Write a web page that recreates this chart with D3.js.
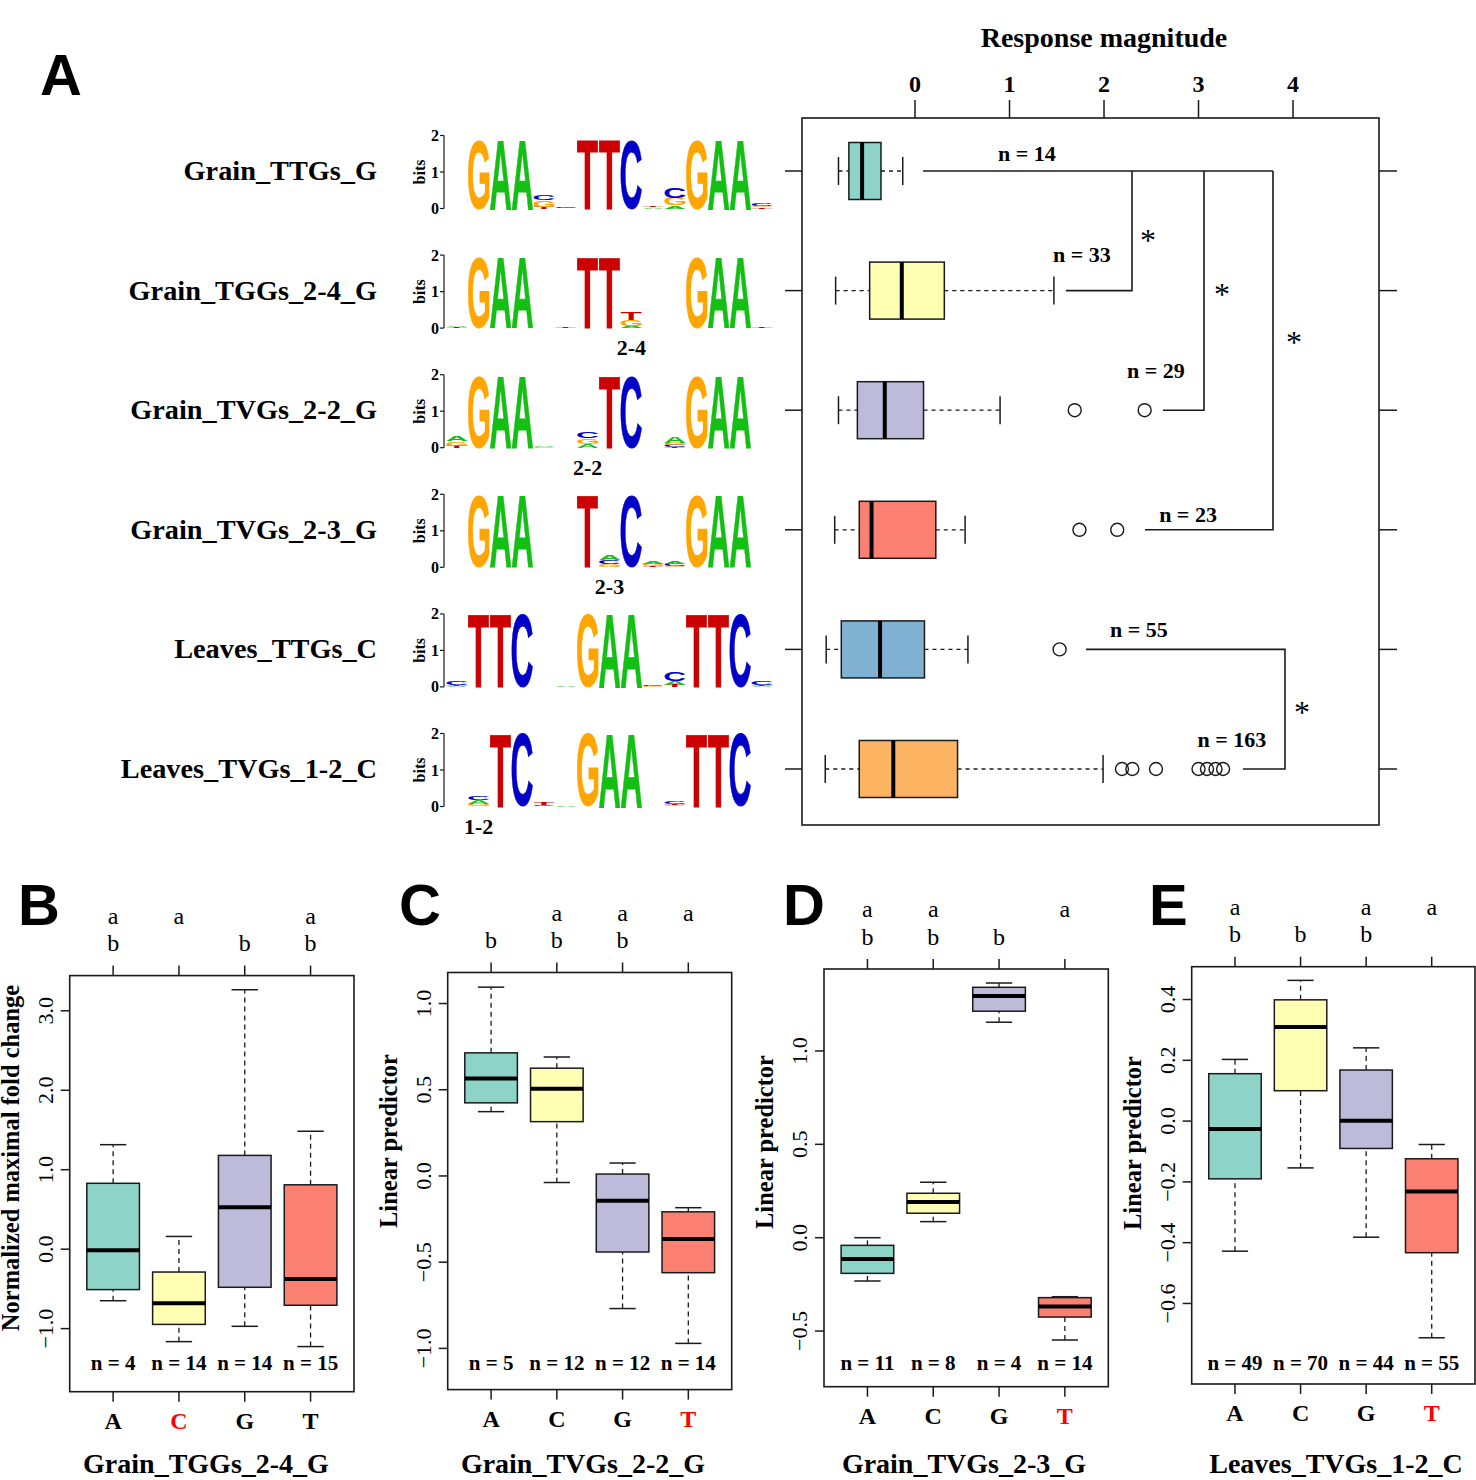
<!DOCTYPE html>
<html>
<head>
<meta charset="utf-8">
<script src="https://cdn.jsdelivr.net/npm/d3@7"></script>
<style>
    body { margin: 0; background: #fff; }
</style>
</head>
<body>
<svg id="fig" width="1476" height="1480"></svg>
<script>
// ---------- panel A data ----------
const motifNames = ["Grain_TTGs_G", "Grain_TGGs_2-4_G", "Grain_TVGs_2-2_G", "Grain_TVGs_2-3_G", "Leaves_TTGs_C", "Leaves_TVGs_1-2_C"];
// [min, q1, median, q3, max] of response magnitude
const respStats = [
    [-0.81, -0.70, -0.56, -0.36, -0.13],
    [-0.84, -0.48, -0.14, 0.31, 1.47],
    [-0.81, -0.61, -0.32, 0.09, 0.90],
    [-0.85, -0.59, -0.46, 0.22, 0.53],
    [-0.94, -0.78, -0.37, 0.10, 0.56],
    [-0.95, -0.59, -0.23, 0.45, 1.99]
];
const respOutliers = [[], [], [1.69, 2.43], [1.74, 2.14], [1.53], [2.19, 2.30, 2.55, 3.00, 3.09, 3.18, 3.26]];
const respN = [14, 33, 29, 23, 55, 163];
const respTicks = [0, 1, 2, 3, 4];
const boxColors = ["#8dd3c7", "#ffffb3", "#bebada", "#fb8072", "#80b1d3", "#fdb462"];
// n label anchor [value, row]
const nLabelAt = [[1.185, -0.084], [1.767, 0.757], [2.55, 1.731], [2.889, 2.932], [2.37, 3.894], [3.354, 4.814]];
// significance brackets as polylines [value, row]
const bracketLines = [
    [[0.085, 0], [3.788, 0]],
    [[1.598, 1], [2.296, 1], [2.296, 0]],
    [[2.624, 2], [3.058, 2], [3.058, 0]],
    [[2.434, 3], [3.788, 3], [3.788, 0]],
    [[1.81, 4], [3.915, 4], [3.915, 5], [3.471, 5]]
];
const sigStars = [[2.466, 0.543], [3.249, 0.995], [4.011, 1.396], [4.095, 4.49]];

// sequence logos: 15 columns, each a stack of [base, bits] from bottom to top
const logoTTGs = [
    [], [["G", 1.88]], [["A", 1.88]], [["A", 1.88]],
    [["T", 0.05], ["G", 0.18], ["C", 0.15]], [["G", 0.02], ["C", 0.04]],
    [["T", 1.88]], [["T", 1.88]], [["C", 1.88]],
    [["A", 0.03], ["T", 0.03]], [["A", 0.08], ["G", 0.2], ["C", 0.3]],
    [["G", 1.88]], [["A", 1.88]], [["A", 1.88]],
    [["T", 0.03], ["G", 0.03], ["C", 0.08]]
];
const logoTGGs24 = [
    [["T", 0.02], ["A", 0.04]], [["G", 1.92]], [["A", 1.92]], [["A", 1.92]],
    [], [["T", 0.02]],
    [["T", 1.92]], [["T", 1.92]], [["A", 0.05], ["G", 0.18], ["T", 0.22]],
    [], [],
    [["G", 1.92]], [["A", 1.92]], [["A", 1.92]],
    [["T", 0.02]]
];
const logoTVGs22 = [
    [["T", 0.05], ["G", 0.12], ["A", 0.12]], [["G", 1.94]], [["A", 1.94]], [["A", 1.94]],
    [["G", 0.02], ["A", 0.02]], [],
    [["A", 0.1], ["G", 0.15], ["C", 0.18]], [["T", 1.94]], [["C", 1.94]],
    [], [["T", 0.02], ["C", 0.05], ["G", 0.05], ["A", 0.16]],
    [["G", 1.94]], [["A", 1.94]], [["A", 1.94]],
    []
];
const logoTVGs23 = [
    [], [["G", 1.96]], [["A", 1.96]], [["A", 1.96]],
    [], [],
    [["T", 1.96]], [["G", 0.08], ["C", 0.12], ["A", 0.12]], [["C", 1.96]],
    [["T", 0.03], ["G", 0.05], ["A", 0.08]], [["G", 0.03], ["C", 0.05], ["A", 0.07]],
    [["G", 1.96]], [["A", 1.96]], [["A", 1.96]],
    []
];
const logoLeavesTTGs = [
    [["A", 0.02], ["T", 0.03], ["C", 0.1]], [["T", 1.98]], [["T", 1.98]], [["C", 1.98]],
    [], [["A", 0.04]],
    [["G", 1.98]], [["A", 1.98]], [["A", 1.98]],
    [["G", 0.02], ["C", 0.03]], [["T", 0.05], ["A", 0.1], ["C", 0.25]],
    [["T", 1.98]], [["T", 1.98]], [["C", 1.98]],
    [["A", 0.02], ["T", 0.03], ["C", 0.1]]
];
const logoLeavesTVGs12 = [
    [], [["G", 0.08], ["A", 0.1], ["C", 0.12]], [["T", 1.98]], [["C", 1.98]],
    [["C", 0.03], ["T", 0.05]], [["A", 0.04]],
    [["G", 1.98]], [["A", 1.98]], [["A", 1.98]],
    [], [["G", 0.03], ["T", 0.04], ["C", 0.08]],
    [["T", 1.98]], [["T", 1.98]], [["C", 1.98]],
    [["C", 0.01]]
];
const logos = [logoTTGs, logoTGGs24, logoTVGs22, logoTVGs23, logoLeavesTTGs, logoLeavesTVGs12];
const spacerLabels = ["", "2-4", "2-2", "2-3", "", "1-2"];
const spacerCols = [null, 8, 6, 7, null, 1];
const baseColors = { A: "#14bf14", C: "#0000c8", G: "#ffa500", T: "#cc0000" };

// ---------- panels B-E data ----------
const bases = ["A", "C", "G", "T"];
const fcStats = [[-0.649, -0.509, -0.013, 0.829, 1.315], [-1.164, -0.947, -0.682, -0.288, 0.16], [-0.971, -0.48, 0.526, 1.18, 3.265], [-1.226, -0.706, -0.374, 0.81, 1.484]];
const fcN = [4, 14, 14, 15];
const fcGroups = ["ab", "a", "b", "ab"];
const fcTicks = [-1, 0, 1, 2, 3];
const lp22Stats = [[0.373, 0.424, 0.565, 0.714, 1.095], [-0.038, 0.315, 0.506, 0.625, 0.69], [-0.769, -0.441, -0.144, 0.011, 0.075], [-0.971, -0.561, -0.366, -0.208, -0.184]];
const lp22N = [5, 12, 12, 14];
const lp22Groups = ["b", "ab", "ab", "a"];
const lp22Ticks = [-1, -0.5, 0, 0.5, 1];
const lp23Stats = [[-0.232, -0.191, -0.114, -0.041, 0.0], [0.086, 0.131, 0.191, 0.238, 0.297], [1.154, 1.213, 1.295, 1.341, 1.364], [-0.548, -0.425, -0.368, -0.321, -0.316]];
const lp23N = [11, 8, 4, 14];
const lp23Groups = ["ab", "ab", "b", "a"];
const lp23Ticks = [-0.5, 0, 0.5, 1];
const lp12Stats = [[-0.428, -0.19, -0.026, 0.156, 0.203], [-0.154, 0.1, 0.31, 0.399, 0.463], [-0.382, -0.09, 0.001, 0.168, 0.241], [-0.713, -0.433, -0.232, -0.124, -0.077]];
const lp12N = [49, 70, 44, 55];
const lp12Groups = ["ab", "b", "ab", "a"];
const lp12Ticks = [-0.6, -0.4, -0.2, 0, 0.2, 0.4];

const serif = "'Liberation Serif', 'Times New Roman', serif";
const sans = "'Liberation Sans', Arial, sans-serif";
const ink = "#1a1a1a";

const svg = d3.select("#fig");

// panel letters
[["A", 40, 95], ["B", 18, 925], ["C", 399, 925], ["D", 783, 925], ["E", 1149, 925]].forEach(([t, x, y]) => {
    svg.append("text").attr("x", x).attr("y", y)
        .attr("font-family", sans).attr("font-weight", "bold").attr("font-size", 58)
        .text(t);
});

// ---------- panel A: response magnitude boxplots ----------
const frameA = { x0: 802, x1: 1379, y0: 118, y1: 825 };
const xA = d3.scaleLinear().domain([-1.196, 4.91]).range([frameA.x0, frameA.x1]);
const yA = d3.scaleLinear().domain([0, 5]).range([171, 769]);
const gA = svg.append("g");

gA.append("rect")
    .attr("x", frameA.x0).attr("y", frameA.y0)
    .attr("width", frameA.x1 - frameA.x0).attr("height", frameA.y1 - frameA.y0)
    .attr("fill", "none").attr("stroke", ink).attr("stroke-width", 1.6);

// top axis
gA.selectAll(".tickA").data(respTicks).join("line")
    .attr("x1", d => xA(d)).attr("x2", d => xA(d))
    .attr("y1", frameA.y0).attr("y2", frameA.y0 - 18)
    .attr("stroke", ink).attr("stroke-width", 1.5);
gA.selectAll(".tickLabA").data(respTicks).join("text")
    .attr("x", d => xA(d)).attr("y", 92)
    .attr("text-anchor", "middle")
    .attr("font-family", serif).attr("font-weight", "bold").attr("font-size", 24)
    .text(d => d);
gA.append("text")
    .attr("x", xA(2)).attr("y", 47)
    .attr("text-anchor", "middle")
    .attr("font-family", serif).attr("font-weight", "bold").attr("font-size", 28)
    .text("Response magnitude");

// side ticks and motif names
motifNames.forEach((m, i) => {
    gA.append("line").attr("x1", frameA.x0 - 17).attr("x2", frameA.x0)
        .attr("y1", yA(i)).attr("y2", yA(i)).attr("stroke", ink).attr("stroke-width", 1.5);
    gA.append("line").attr("x1", frameA.x1).attr("x2", frameA.x1 + 18)
        .attr("y1", yA(i)).attr("y2", yA(i)).attr("stroke", ink).attr("stroke-width", 1.5);
    svg.append("text")
        .attr("x", 377).attr("y", yA(i) + 9)
        .attr("text-anchor", "end")
        .attr("font-family", serif).attr("font-weight", "bold").attr("font-size", 28.3)
        .text(m);
});

const halfBox = 28.5, halfCap = 14;
respStats.forEach((s, i) => {
    const cy = yA(i);
    const g = gA.append("g");
    [[s[0], s[1]], [s[3], s[4]]].forEach(([a, b]) => {
        g.append("line").attr("x1", xA(a)).attr("x2", xA(b)).attr("y1", cy).attr("y2", cy)
            .attr("stroke", ink).attr("stroke-width", 1.3).attr("stroke-dasharray", "4,4");
    });
    [s[0], s[4]].forEach(v => {
        g.append("line").attr("x1", xA(v)).attr("x2", xA(v))
            .attr("y1", cy - halfCap).attr("y2", cy + halfCap)
            .attr("stroke", ink).attr("stroke-width", 1.5);
    });
    g.append("rect")
        .attr("x", xA(s[1])).attr("y", cy - halfBox)
        .attr("width", xA(s[3]) - xA(s[1])).attr("height", 2 * halfBox)
        .attr("fill", boxColors[i]).attr("stroke", ink).attr("stroke-width", 1.5);
    g.append("line").attr("x1", xA(s[2])).attr("x2", xA(s[2]))
        .attr("y1", cy - halfBox).attr("y2", cy + halfBox)
        .attr("stroke", "#000").attr("stroke-width", 4);
    g.selectAll("circle").data(respOutliers[i]).join("circle")
        .attr("cx", d => xA(d)).attr("cy", cy).attr("r", 6.5)
        .attr("fill", "none").attr("stroke", ink).attr("stroke-width", 1.4);
    g.append("text")
        .attr("x", xA(nLabelAt[i][0])).attr("y", yA(nLabelAt[i][1]))
        .attr("text-anchor", "middle")
        .attr("font-family", serif).attr("font-weight", "bold").attr("font-size", 22)
        .text(`n = ${respN[i]}`);
});

const bracketLine = d3.line().x(d => xA(d[0])).y(d => yA(d[1]));
gA.selectAll(".bracket").data(bracketLines).join("path")
    .attr("d", bracketLine)
    .attr("fill", "none").attr("stroke", ink).attr("stroke-width", 1.6);
gA.selectAll(".star").data(sigStars).join("text")
    .attr("x", d => xA(d[0])).attr("y", d => yA(d[1]) + 15)
    .attr("text-anchor", "middle")
    .attr("font-family", serif).attr("font-size", 32)
    .text("*");

// ---------- sequence logos ----------
const bitPx = 36.5, colW = 21.8, logoX0 = 446, axisX = 444;
const ctx = document.createElement("canvas").getContext("2d");
ctx.font = "bold 100px 'Liberation Sans'";
const glyph = {};
"ACGT".split("").forEach(ch => {
    const m = ctx.measureText(ch);
    glyph[ch] = { l: m.actualBoundingBoxLeft, r: m.actualBoundingBoxRight, a: m.actualBoundingBoxAscent, d: m.actualBoundingBoxDescent };
});

logos.forEach((cols, i) => {
    const yb = yA(i) + 37.5;
    const yBits = d3.scaleLinear().domain([0, 2]).range([yb, yb - 2 * bitPx]);
    const g = svg.append("g");

    g.append("line").attr("x1", axisX).attr("x2", axisX)
        .attr("y1", yBits(0)).attr("y2", yBits(2))
        .attr("stroke", ink).attr("stroke-width", 1.2);
    [0, 1, 2].forEach(t => {
        g.append("line").attr("x1", axisX - 4).attr("x2", axisX)
            .attr("y1", yBits(t)).attr("y2", yBits(t))
            .attr("stroke", ink).attr("stroke-width", 1.2);
        g.append("text").attr("x", axisX - 5).attr("y", yBits(t) + 5.5)
            .attr("text-anchor", "end")
            .attr("font-family", serif).attr("font-weight", "bold").attr("font-size", 16)
            .text(t);
    });
    g.append("text")
        .attr("transform", `translate(425,${yBits(1)}) rotate(-90)`)
        .attr("text-anchor", "middle")
        .attr("font-family", serif).attr("font-weight", "bold").attr("font-size", 16)
        .text("bits");

    cols.forEach((stack, c) => {
        let acc = 0;
        stack.forEach(([ch, h]) => {
            const yLow = yBits(acc), yHigh = yBits(acc + h);
            acc += h;
            const b = glyph[ch];
            const w = colW - 0.8;
            const sx = w / (b.l + b.r), sy = (yLow - yHigh) / (b.a + b.d);
            const letter = g.append("text")
                .attr("transform", `translate(${logoX0 + c * colW + 0.4 + b.l * sx},${yLow - b.d * sy}) scale(${sx},${sy})`)
                .attr("font-family", sans).attr("font-weight", "bold").attr("font-size", 100)
                .attr("fill", baseColors[ch])
                .text(ch);
            // big letters look a little heavier in the reference
            if (h > 0.5) {
                letter.attr("stroke", baseColors[ch]).attr("stroke-width", 0.7)
                    .attr("vector-effect", "non-scaling-stroke");
            }
        });
    });

    if (spacerLabels[i]) {
        g.append("text")
            .attr("x", logoX0 + (spacerCols[i] + 0.5) * colW).attr("y", yb + 27)
            .attr("text-anchor", "middle")
            .attr("font-family", serif).attr("font-weight", "bold").attr("font-size", 22)
            .text(spacerLabels[i]);
    }
});

// ---------- panels B-E ----------
const bottomPanels = [
    { stats: fcStats, n: fcN, groups: fcGroups, ticks: fcTicks, red: 1, ylab: "Normalized maximal fold change", title: "Grain_TGGs_2-4_G",
      x0: 69.7, x1: 354, y0: 975.6, y1: 1391.7, yDom: [-1.794, 3.443], ylabY: 1158, titleX: 206 },
    { stats: lp22Stats, n: lp22N, groups: lp22Groups, ticks: lp22Ticks, red: 3, ylab: "Linear predictor", title: "Grain_TVGs_2-2_G",
      x0: 447.7, x1: 731.7, y0: 972.5, y1: 1389.6, yDom: [-1.239, 1.18], ylabY: 1141, titleX: 583 },
    { stats: lp23Stats, n: lp23N, groups: lp23Groups, ticks: lp23Ticks, red: 3, ylab: "Linear predictor", title: "Grain_TVGs_2-3_G",
      x0: 824, x1: 1108.3, y0: 969, y1: 1386.7, yDom: [-0.798, 1.439], ylabY: 1142, titleX: 964 },
    { stats: lp12Stats, n: lp12N, groups: lp12Groups, ticks: lp12Ticks, red: 3, ylab: "Linear predictor", title: "Leaves_TVGs_1-2_C",
      x0: 1191.7, x1: 1475, y0: 966.7, y1: 1384, yDom: [-0.865, 0.508], ylabY: 1143, titleX: 1336 }
];

const fmt = d3.format(".1f");

bottomPanels.forEach(p => {
    const g = svg.append("g");
    const x = d3.scaleLinear().domain([0.34, 4.66]).range([p.x0, p.x1]);
    const y = d3.scaleLinear().domain(p.yDom).range([p.y1, p.y0]);
    const hw = x(1.4) - x(1), cw = x(1.2) - x(1);

    p.stats.forEach((s, i) => {
        const cx = x(i + 1);
        [[s[0], s[1]], [s[3], s[4]]].forEach(([a, b]) => {
            g.append("line").attr("x1", cx).attr("x2", cx).attr("y1", y(a)).attr("y2", y(b))
                .attr("stroke", ink).attr("stroke-width", 1.3).attr("stroke-dasharray", "5,4");
        });
        [s[0], s[4]].forEach(v => {
            g.append("line").attr("x1", cx - cw).attr("x2", cx + cw).attr("y1", y(v)).attr("y2", y(v))
                .attr("stroke", ink).attr("stroke-width", 1.5);
        });
        g.append("rect")
            .attr("x", cx - hw).attr("y", y(s[3]))
            .attr("width", 2 * hw).attr("height", y(s[1]) - y(s[3]))
            .attr("fill", boxColors[i]).attr("stroke", ink).attr("stroke-width", 1.5);
        g.append("line").attr("x1", cx - hw).attr("x2", cx + hw).attr("y1", y(s[2])).attr("y2", y(s[2]))
            .attr("stroke", "#000").attr("stroke-width", 4);
        g.append("text")
            .attr("x", cx).attr("y", 1370)
            .attr("text-anchor", "middle")
            .attr("font-family", serif).attr("font-weight", "bold").attr("font-size", 21)
            .text(`n = ${p.n[i]}`);

        // top axis with group letters
        g.append("line").attr("x1", cx).attr("x2", cx).attr("y1", p.y0).attr("y2", p.y0 - 10)
            .attr("stroke", ink).attr("stroke-width", 1.5);
        p.groups[i].split("").forEach(letter => {
            g.append("text")
                .attr("x", cx).attr("y", letter === "a" ? p.y0 - 52 : p.y0 - 24.5)
                .attr("text-anchor", "middle")
                .attr("font-family", serif).attr("font-size", 24)
                .text(letter);
        });

        // bottom axis
        g.append("line").attr("x1", cx).attr("x2", cx).attr("y1", p.y1).attr("y2", p.y1 + 10)
            .attr("stroke", ink).attr("stroke-width", 1.5);
        g.append("text")
            .attr("x", cx).attr("y", p.y1 + 37)
            .attr("text-anchor", "middle")
            .attr("font-family", serif).attr("font-weight", "bold").attr("font-size", 24)
            .attr("fill", i === p.red ? "#ff0000" : "#000")
            .text(bases[i]);
    });

    g.append("rect")
        .attr("x", p.x0).attr("y", p.y0)
        .attr("width", p.x1 - p.x0).attr("height", p.y1 - p.y0)
        .attr("fill", "none").attr("stroke", ink).attr("stroke-width", 1.6);

    // y axis
    g.selectAll(".ytick").data(p.ticks).join("line")
        .attr("x1", p.x0 - 9).attr("x2", p.x0)
        .attr("y1", d => y(d)).attr("y2", d => y(d))
        .attr("stroke", ink).attr("stroke-width", 1.5);
    g.selectAll(".ylab").data(p.ticks).join("text")
        .attr("transform", d => `translate(${p.x0 - 17},${y(d)}) rotate(-90)`)
        .attr("text-anchor", "middle")
        .attr("font-family", serif).attr("font-size", 22)
        .text(d => fmt(d));

    g.append("text")
        .attr("transform", `translate(${p.x0 - 51},${p.ylabY}) rotate(-90)`)
        .attr("text-anchor", "middle")
        .attr("font-family", serif).attr("font-weight", "bold").attr("font-size", 24.5)
        .text(p.ylab);

    g.append("text")
        .attr("x", p.titleX).attr("y", 1473)
        .attr("text-anchor", "middle")
        .attr("font-family", serif).attr("font-weight", "bold").attr("font-size", 28)
        .text(p.title);
});
</script>
</body>
</html>
